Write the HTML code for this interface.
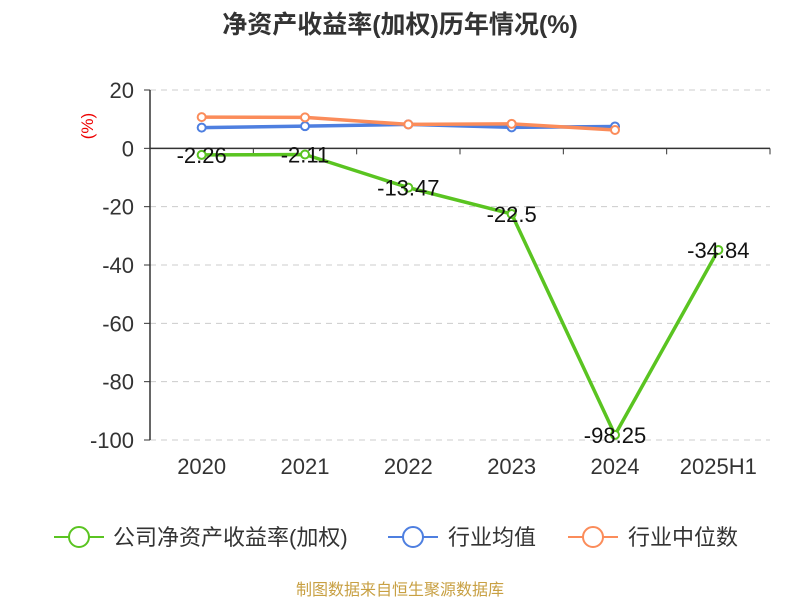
<!DOCTYPE html>
<html><head><meta charset="utf-8"><style>
body{margin:0;background:#fff;font-family:"Liberation Sans","Noto Sans CJK SC",sans-serif}
</style></head><body>
<svg width="800" height="600" xmlns="http://www.w3.org/2000/svg" font-family="Liberation Sans, Noto Sans CJK SC, sans-serif">
<text x="400" y="33" text-anchor="middle" font-size="25" font-weight="bold" fill="#333">净资产收益率(加权)历年情况(%)</text>
<text x="93" y="126" text-anchor="middle" font-size="17" fill="#e00" transform="rotate(-90 93 126)">(%)</text>
<g id="grid"></g><g id="axes"></g><g id="series"></g>
<g font-size="22" fill="#333">
<g><line x1="54" y1="537" x2="104" y2="537" stroke="#5ac421" stroke-width="2"/><circle cx="79" cy="537" r="10" fill="#fff" stroke="#5ac421" stroke-width="2"/><text x="113" y="545">公司净资产收益率(加权)</text></g>
<g><line x1="388" y1="537" x2="438" y2="537" stroke="#4e7fe0" stroke-width="2"/><circle cx="413" cy="537" r="10" fill="#fff" stroke="#4e7fe0" stroke-width="2"/><text x="448" y="545">行业均值</text></g>
<g><line x1="568" y1="537" x2="618" y2="537" stroke="#fb8c5a" stroke-width="2"/><circle cx="593" cy="537" r="10" fill="#fff" stroke="#fb8c5a" stroke-width="2"/><text x="628" y="545">行业中位数</text></g>
</g>
<text x="400" y="595" text-anchor="middle" font-size="16" fill="#c8a043">制图数据来自恒生聚源数据库</text>
</svg>
<script>
const categories=["2020","2021","2022","2023","2024","2025H1"];
const companyVals=[-2.26,-2.11,-13.47,-22.5,-98.25,-34.84];
const companyLabels=["-2.26","-2.11","-13.47","-22.5","-98.25","-34.84"];
const avgVals=[7.1,7.6,8.2,7.2,7.5];
const medianVals=[10.7,10.6,8.2,8.4,6.3];
const yTicks=[20,0,-20,-40,-60,-80,-100];
const NS="http://www.w3.org/2000/svg";
const x0=150,x1=770,yTop=90,yBot=440,vMax=20,vMin=-100;
const bw=(x1-x0)/categories.length;
const xs=i=>x0+bw*(i+0.5);
const ys=v=>yTop+(vMax-v)/(vMax-vMin)*(yBot-yTop);
function mk(tag,attrs,parent){const e=document.createElementNS(NS,tag);for(const k in attrs)e.setAttribute(k,attrs[k]);parent.appendChild(e);return e;}
const grid=document.getElementById('grid'),axes=document.getElementById('axes'),ser=document.getElementById('series');
yTicks.forEach(t=>{
 if(t!==0){const l=mk('line',{x1:x0,x2:x1,y1:ys(t),y2:ys(t),stroke:'#ccc','stroke-dasharray':'6,5'},grid);
 
 }
 const tk=mk('line',{x1:x0-6,x2:x0,y1:ys(t),y2:ys(t),stroke:'#333'},axes);
 
 
 const tx=mk('text',{x:x0-16,y:ys(t)+8,'text-anchor':'end','font-size':22,fill:'#333'},axes);tx.textContent=t;
 
 
});
const ya=mk('line',{x1:x0,x2:x0,y1:yTop,y2:yBot,stroke:'#333','stroke-width':1.5},axes);


const xa=mk('line',{x1:x0,x2:x1,y1:ys(0),y2:ys(0),stroke:'#333','stroke-width':1.5},axes);


categories.forEach((c,i)=>{
 const tk=mk('line',{x1:x0+bw*(i+1),x2:x0+bw*(i+1),y1:ys(0),y2:ys(0)+6,stroke:'#333'},axes);
 
 
 const tx=mk('text',{x:xs(i),y:474,'text-anchor':'middle','font-size':22,fill:'#333'},axes);tx.textContent=c;
 
 
});
function series(vals,color,name){
 const g=mk('g',{},ser);
 
 
 const p=mk('polyline',{points:vals.map((v,i)=>xs(i)+','+ys(v)).join(' '),fill:'none',stroke:color,'stroke-width':3.5,'stroke-linejoin':'round'},g);
 
 
 vals.forEach((v,i)=>{const c=mk('circle',{cx:xs(i),cy:ys(v),r:4,fill:'#fff',stroke:color,'stroke-width':2},g);
 
 });
}
series(avgVals,'#4e7fe0','industry-avg');
series(medianVals,'#fb8c5a','industry-median');
series(companyVals,'#5ac421','company-roe');
companyVals.forEach((v,i)=>{
 const tx=mk('text',{x:xs(i),y:ys(v)+8,'text-anchor':'middle','font-size':22,fill:'#111'},ser);tx.textContent=companyLabels[i];
 
 
});
</script>
</body></html>
